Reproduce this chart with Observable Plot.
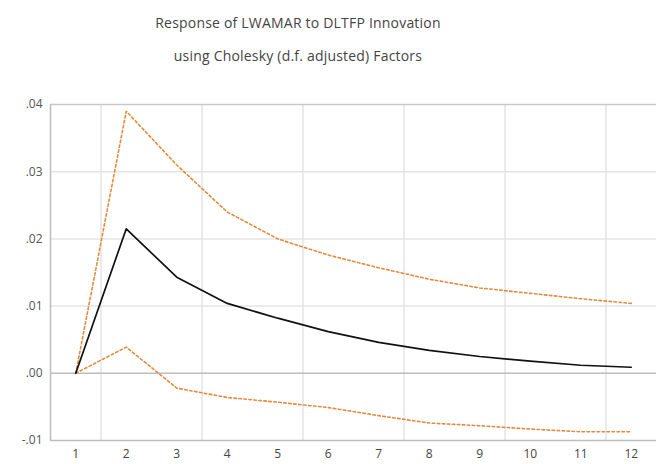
<!DOCTYPE html>
<html>
<head>
<meta charset="utf-8">
<script src="https://cdn.jsdelivr.net/npm/d3@7"></script>
<script src="https://cdn.jsdelivr.net/npm/@observablehq/plot@0.6"></script>
<style>
  body { margin: 0; background: #fff; }
  #wrap { position: relative; width: 656px; height: 464px; overflow: hidden; }
  .title { position: absolute; left: 0; width: 596px; text-align: center; font-family: "Open Sans", sans-serif; font-size: 14px; color: #444; letter-spacing: 0.2px; }
  #chart { position: absolute; left: 0; top: 0; }
</style>
</head>
<body>
<div id="wrap">
  <div id="chart"></div>
  <div class="title" style="top:13px">Response of LWAMAR to DLTFP Innovation</div>
  <div class="title" style="top:46px">using Cholesky (d.f. adjusted) Factors</div>
</div>
<script>
const periods = [1, 2, 3, 4, 5, 6, 7, 8, 9, 10, 11, 12];
const response = [0.0, 0.0215, 0.0143, 0.0104, 0.0082, 0.0062, 0.0046, 0.0034, 0.0025, 0.0018, 0.0012, 0.0009];
const upper = [0.0, 0.0390, 0.0310, 0.0240, 0.0200, 0.0176, 0.0157, 0.0140, 0.0127, 0.0119, 0.0111, 0.0104];
const lower = [0.0, 0.0039, -0.0022, -0.0036, -0.0043, -0.0051, -0.0063, -0.0074, -0.0078, -0.0083, -0.0087, -0.0087];
const yTicks = [-0.01, 0.0, 0.01, 0.02, 0.03, 0.04];
const gridX = [1.5, 3.5, 5.5, 7.5, 9.5, 11.5];

const mk = (arr) => periods.map((p, i) => ({p, v: arr[i]}));
const fmt = d => d.toFixed(2).replace("0.", ".");

const plot = Plot.plot({
  width: 656,
  height: 464,
  marginTop: 104,
  marginBottom: 24,
  marginLeft: 50,
  marginRight: 0,
  style: {fontFamily: "Open Sans, sans-serif", fontSize: "12px", color: "#555", background: "white"},
  x: {domain: [0.5, 12.5], axis: null},
  y: {domain: [-0.01, 0.04], axis: null},
  marks: [
    Plot.ruleY(yTicks.filter(d => d !== 0 && d !== -0.01 && d !== 0.04), {stroke: "#e4e4e4", strokeWidth: 1.5}),
    Plot.ruleX(gridX, {stroke: "#e4e4e4", strokeWidth: 1.5}),
    Plot.ruleY([0], {stroke: "#bdbdbd", strokeWidth: 1.5}),
    Plot.ruleY([0.04], {stroke: "#c8c8c8", strokeWidth: 1.5}),
    Plot.ruleY([-0.01], {stroke: "#bdbdbd", strokeWidth: 1.5}),
    Plot.ruleX([0.5], {stroke: "#bdbdbd", strokeWidth: 1.5}),
    Plot.axisY(yTicks, {tickFormat: fmt, tickSize: 0, tickPadding: 8, fill: "#555", fontSize: 12, label: null}),
    Plot.axisX(periods, {tickSize: 0, tickPadding: 9, fill: "#444", fontSize: 12, label: null}),
    Plot.line(mk(upper), {x: "p", y: "v", stroke: "#e6893e", strokeWidth: 1.6, strokeDasharray: "2.5,2.5"}),
    Plot.line(mk(lower), {x: "p", y: "v", stroke: "#e6893e", strokeWidth: 1.6, strokeDasharray: "2.5,2.5"}),
    Plot.line(mk(response), {x: "p", y: "v", stroke: "#111", strokeWidth: 1.7})
  ]
});
document.getElementById("chart").appendChild(plot);
</script>
</body>
</html>
